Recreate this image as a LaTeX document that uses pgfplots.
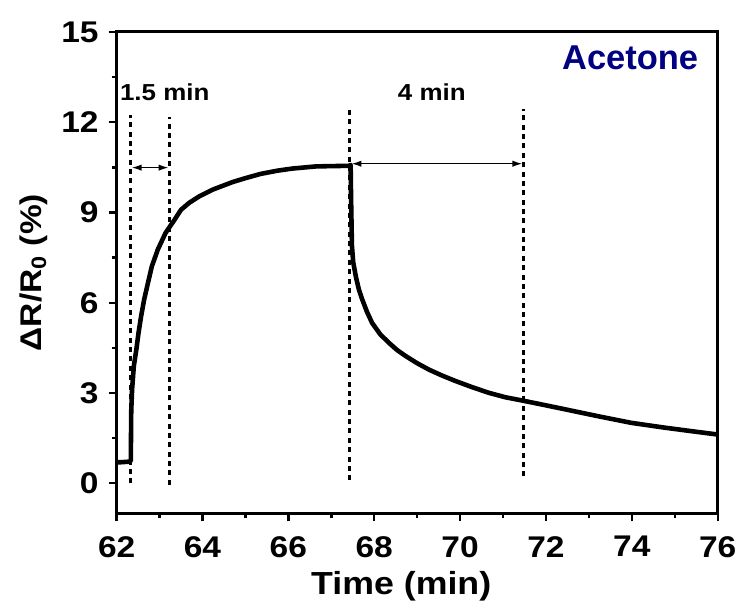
\documentclass[border=0pt]{standalone}
\usepackage{fontspec}
\setmainfont{Liberation Sans}[FakeStretch=1.12]
\newfontfamily\plainsans{Liberation Sans}
\usepackage{pgfplots}
\pgfplotsset{compat=1.18}
\usetikzlibrary{arrows.meta}
\definecolor{navy}{RGB}{0,0,128}
\begin{document}
\begin{tikzpicture}
\begin{axis}[
  name=ax,
  scale only axis, width=301.5pt, height=241.5pt,
  xmin=62, xmax=76, ymin=-1, ymax=15,
  xtick={62,64,...,76}, ytick={0,3,...,15},
  minor x tick num=1, minor y tick num=1,
  tick align=outside, xtick pos=bottom, ytick pos=left,
  major tick length=4pt, minor tick length=2.5pt,
  every tick/.style={black, line width=1.2pt},
  axis line style={line width=1.5pt},
  /pgf/number format/assume math mode=true,
  ticklabel style={font=\fontsize{15}{18}\selectfont\bfseries},
  xticklabel style={yshift=-4pt},
  yticklabel style={xshift=-1.5pt},
  xlabel style={font=\fontsize{16}{19}\selectfont\bfseries, xshift=-8pt},
  ylabel style={font=\fontsize{15}{18}\selectfont\bfseries},
  xlabel={Time (min)}, ylabel={ΔR/R\textsubscript{0} (\%)},
  clip=false,
]
\addplot[black, line width=2.3pt, line join=round] coordinates {
(62.00,0.70) (62.10,0.70) (62.20,0.71) (62.30,0.72) (62.33,0.75)
(62.34,2.4) (62.36,3.12) (62.40,3.89) (62.46,4.45) (62.51,5.0)
(62.57,5.55) (62.64,6.1) (62.73,6.66) (62.82,7.21) (62.96,7.77)
(63.14,8.32) (63.35,8.76) (63.50,9.09) (63.69,9.32) (63.93,9.54)
(64.24,9.76) (64.70,10.01) (65.00,10.14) (65.35,10.28) (65.75,10.39)
(66.10,10.46) (66.64,10.53) (67.00,10.54) (67.41,10.55) (67.45,10.58)
(67.46,9.5) (67.48,7.9) (67.51,7.35) (67.57,6.88) (67.64,6.45)
(67.72,6.11) (67.83,5.7) (67.95,5.33) (68.14,4.95) (68.34,4.67)
(68.53,4.43) (68.73,4.23) (69.00,3.99) (69.27,3.78) (69.58,3.58)
(69.89,3.40) (70.27,3.2) (70.66,3.01) (71.05,2.86) (71.45,2.75)
(72.00,2.59) (72.44,2.46) (73.21,2.23) (73.98,2.01) (74.76,1.85)
(75.40,1.73) (76.00,1.62)
};
\addplot[black, line width=1.4pt, dash pattern=on 2.5pt off 2.2pt] coordinates {(62.33,0.0) (62.33,12.25)};
\addplot[black, line width=1.4pt, dash pattern=on 2.5pt off 2.2pt] coordinates {(63.23,-0.05) (63.23,12.18)};
\addplot[black, line width=1.4pt, dash pattern=on 2.5pt off 2.2pt] coordinates {(67.43,0.1) (67.43,12.4)};
\addplot[black, line width=1.4pt, dash pattern=on 2.5pt off 2.2pt] coordinates {(71.47,0.23) (71.47,12.45)};
\addplot[black, line width=0.7pt, {Latex[length=5pt,width=3.2pt]}-{Latex[length=5pt,width=3.2pt]}] coordinates {(62.35,10.49) (63.21,10.49)};
\addplot[black, line width=0.7pt, {Latex[length=5pt,width=3.2pt]}-{Latex[length=5pt,width=3.2pt]}] coordinates {(67.47,10.62) (71.45,10.62)};
\node[font=\fontsize{11.6}{14}\selectfont\bfseries] at (axis cs:63.12,13.0) {1.5 min};
\node[font=\fontsize{11.6}{14}\selectfont\bfseries] at (axis cs:69.34,13.0) {4 min};
\node[font=\plainsans\fontsize{17.3}{20}\selectfont\bfseries, text=navy] at (axis cs:73.96,14.15) {Acetone};
\end{axis}
\path[use as bounding box] ([xshift=-58.5pt,yshift=-45pt]ax.south west) rectangle ([xshift=11.5pt,yshift=16pt]ax.north east);
\end{tikzpicture}
\end{document}
